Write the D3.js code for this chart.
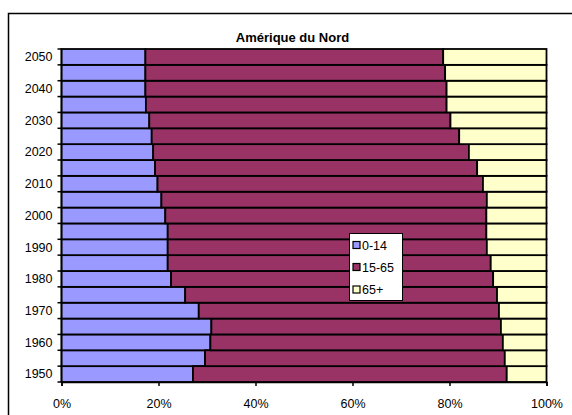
<!DOCTYPE html>
<html><head><meta charset="utf-8">
<script src="https://cdn.jsdelivr.net/npm/d3@7"></script>
<style>body{margin:0;background:#fff}svg{display:block;font-family:"Liberation Sans",Arial,sans-serif}</style>
</head><body><svg id="c" width="572" height="415"></svg>
<script>
const years = [1950,1955,1960,1965,1970,1975,1980,1985,1990,1995,2000,2005,2010,2015,2020,2025,2030,2035,2040,2045,2050];
const age0_14 = [27.1,29.6,30.7,30.9,28.3,25.5,22.6,21.9,21.9,21.9,21.4,20.6,19.8,19.3,18.9,18.6,18.1,17.4,17.3,17.3,17.3];
const age15_65 = [64.7,61.8,60.3,59.7,61.9,64.3,66.4,66.6,65.8,65.7,66.2,67.1,67.1,66.4,65.1,63.4,62.1,62.0,62.1,61.8,61.4];
const age65p = [8.2,8.6,9.0,9.4,9.8,10.2,11.0,11.5,12.3,12.4,12.4,12.3,13.1,14.3,16.0,18.0,19.8,20.6,20.6,20.9,21.3];
const seriesNames = ["0-14","15-65","65+"];
const colors = ["#9999FF","#993366","#FFFFCC"];
const xTicks = [0,0.2,0.4,0.6,0.8,1];
const title = "Amérique du Nord";

const rows = years.map((y,i)=>({year:y,"0-14":age0_14[i],"15-65":age15_65[i],"65+":age65p[i]}));
const stacked = d3.stack().keys(seriesNames).offset(d3.stackOffsetExpand)(rows);

const svg = d3.select("#c");
const L=61.5, R=546.5, T=49, B=382;
svg.append("rect").attr("x",8.5).attr("y",13.5).attr("width",600).attr("height",450)
  .attr("fill","#fff").attr("stroke","#000").attr("stroke-width",1.5);

svg.append("text").attr("x",292.5).attr("y",42).attr("text-anchor","middle")
  .attr("font-size",13).attr("font-weight","bold").text(title);

const x = d3.scaleLinear().domain([0,1]).range([L,R]);
const y = d3.scaleBand().domain(years.slice().reverse()).range([T,B]).padding(0);

const g = svg.append("g");
stacked.forEach((s,si)=>{
  g.selectAll(null).data(s).enter().append("rect")
   .attr("x",d=>x(d[0])).attr("width",d=>x(d[1])-x(d[0]))
   .attr("y",d=>y(d.data.year)).attr("height",y.bandwidth())
   .attr("fill",colors[si]).attr("stroke","#000").attr("stroke-width",1.8);
});

// x axis
const xa = svg.append("g").attr("transform",`translate(0,${B})`)
  .call(d3.axisBottom(x).tickValues(xTicks).tickFormat(d3.format(".0%")).tickSize(4).tickPadding(13));
xa.select(".domain").attr("stroke-width",1.5);
xa.selectAll("line").attr("stroke-width",1.5);
xa.selectAll("text").attr("font-size",12.5).attr("font-family","Liberation Sans, Arial, sans-serif");

// y axis: line, boundary ticks, labels every 10 years
const ya = svg.append("g");
ya.append("line").attr("x1",L).attr("x2",L).attr("y1",T).attr("y2",B).attr("stroke","#000").attr("stroke-width",1.5);
const bounds = years.map(v=>y(v)).concat([B]);
ya.selectAll(null).data(bounds).enter().append("line")
  .attr("x1",L-4).attr("x2",L).attr("y1",d=>d).attr("y2",d=>d).attr("stroke","#000").attr("stroke-width",1.5);
ya.selectAll(null).data(years.filter(v=>v%10===0)).enter().append("text")
  .attr("x",52.5).attr("y",d=>y(d)+y.bandwidth()/2).attr("dy","0.35em")
  .attr("text-anchor","end").attr("font-size",12.5).text(d=>d);

// legend
const lg = svg.append("g");
lg.append("rect").attr("x",349.5).attr("y",233.5).attr("width",53).attr("height",67)
  .attr("fill","#fff").attr("stroke","#000").attr("stroke-width",1);
const ly = [245.5,267.5,290];
seriesNames.forEach((n,i)=>{
  lg.append("rect").attr("x",353).attr("y",ly[i]-4).attr("width",7).attr("height",7)
    .attr("fill",colors[i]).attr("stroke","#000").attr("stroke-width",1.2);
  lg.append("text").attr("x",362).attr("y",ly[i]).attr("dy","0.35em").attr("font-size",12.5).text(n);
});
</script></body></html>
